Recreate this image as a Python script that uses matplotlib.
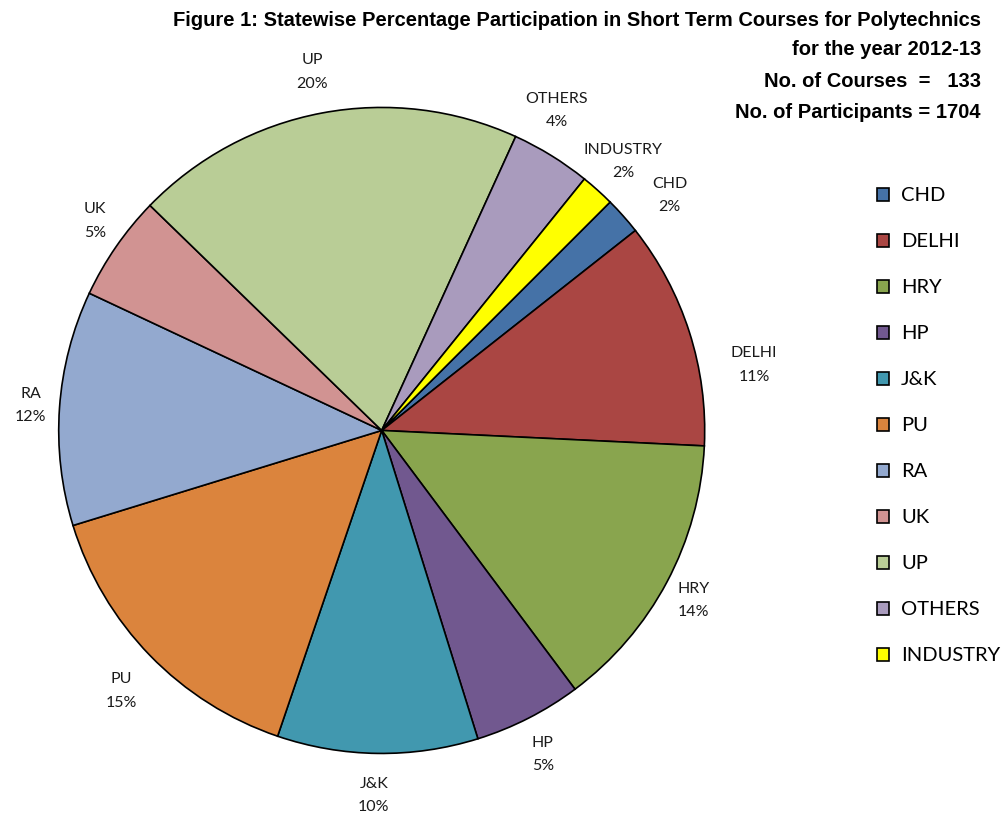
import matplotlib as mpl
import matplotlib.pyplot as plt
import numpy as np

mpl.use("Agg")

# participants per state (total 1704)
states = ["CHD", "DELHI", "HRY", "HP", "J&K", "PU", "RA", "UK", "UP", "OTHERS", "INDUSTRY"]
participants = [32, 194, 239, 92, 171, 256, 200, 90, 333, 68, 29]
colors = ["#4572A7", "#AA4643", "#89A54E", "#71588F", "#4198AF", "#DB843D",
          "#93A9CF", "#D19392", "#B9CD96", "#A99BBD", "#FFFF00"]
title_lines = [
    "Figure 1: Statewise Percentage Participation in Short Term Courses for Polytechnics",
    "for the year 2012-13",
    "No. of Courses  =   133",
    "No. of Participants = 1704",
]

# label placement tweaks (angle shift in deg, radius) to mimic excel best-fit
label_tweak = {
    "UP": (0.3, 1.13), "OTHERS": (3.0, 1.13), "INDUSTRY": (0.0, 1.12),
    "CHD": (-2.4, 1.15), "DELHI": (-7.8, 1.17), "HRY": (-0.6, 1.10),
    "HP": (-0.6, 1.12), "J&K": (-0.5, 1.13), "PU": (0.9, 1.14),
    "RA": (0.0, 1.09), "UK": (-1.5, 1.10),
}

label_font = ["Lato", "DejaVu Sans"]

fig = plt.figure(figsize=(10.02, 8.14), dpi=100)
ax = fig.add_axes([0.0586, 0.0744, 0.6447, 0.7936])

wedges, _ = ax.pie(
    participants,
    colors=colors,
    startangle=45,
    counterclock=False,
    wedgeprops=dict(edgecolor="black", linewidth=1.2),
)
ax.set_xlim(-1, 1)
ax.set_ylim(-1, 1)
ax.set_aspect("equal")

# data labels: name + percent, outside the pie
total = sum(participants)
for w, name, v in zip(wedges, states, participants):
    da, r = label_tweak[name]
    mid = np.deg2rad((w.theta1 + w.theta2) / 2 + da)
    x, y = r * np.cos(mid), r * np.sin(mid)
    ax.text(x, y, "{}\n{:.0f}%".format(name, 100 * v / total),
            ha="center", va="center", fontsize=11.5, family=label_font,
            linespacing=1.85, color="#1a1a1a", clip_on=False)

# legend
fig.legend(
    wedges, states,
    loc="upper left", bbox_to_anchor=(0.857, 0.792),
    frameon=False, prop={"family": label_font, "size": 14.5},
    handlelength=0.6, handleheight=0.6, handletextpad=0.6,
    labelspacing=1.44,
)

# title block, right aligned
ys = [0.9754, 0.9386, 0.8993, 0.8624]
for t, yy in zip(title_lines, ys):
    fig.text(0.979, yy, t, ha="right", va="center", fontsize=14.5,
             fontweight="bold", family=["Liberation Sans", "DejaVu Sans"])

plt.savefig("out.png", dpi=100)
